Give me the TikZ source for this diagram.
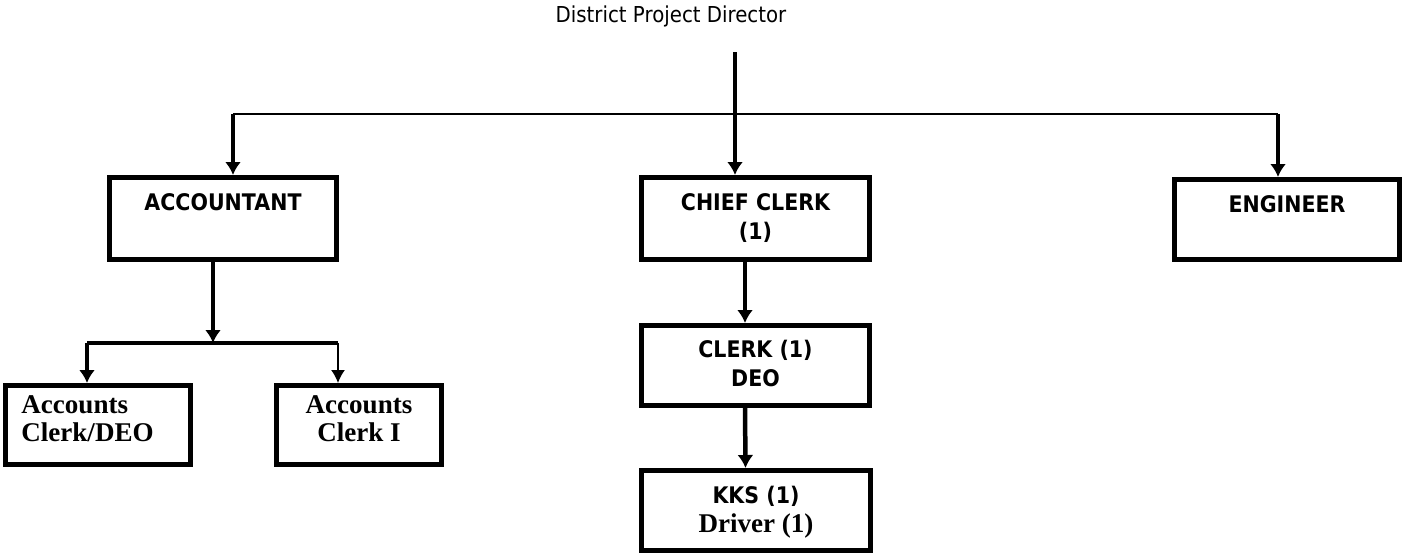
\documentclass[tikz,border=0pt]{standalone}
\usepackage{fontspec}
\setmainfont{Liberation Serif}
\newfontfamily\tahomaFont{DejaVu Sans}[FakeStretch=0.9]
\usetikzlibrary{arrows.meta, positioning}

\definecolor{lineBlack}{RGB}{0, 0, 0}
\definecolor{bgWhite}{RGB}{255, 255, 255}

\def\picW{1405}
\def\picH{555}

\tikzset{
    orgBox/.style={
        rectangle,
        draw=lineBlack,
        line width=0.1cm,
        fill=bgWhite,
        inner sep=0pt
    },
    boxText/.style={
        font=\tahomaFont\bfseries\fontsize{13}{16.5}\selectfont,
        text=lineBlack,
        align=center,
        inner sep=0pt
    },
    serifText/.style={
        font=\rmfamily\bfseries\fontsize{15.4}{16}\selectfont,
        text=lineBlack,
        inner sep=0pt
    },
    headText/.style={
        font=\tahomaFont\fontsize{12.5}{15}\selectfont,
        text=lineBlack,
        inner sep=0pt
    },
    feed/.style={
        draw=lineBlack,
        line width=0.09cm,
        -{Latex[length=0.26cm, width=0.32cm]}
    },
    thinFeed/.style={
        draw=lineBlack,
        line width=0.03cm,
        -{Latex[length=0.26cm, width=0.28cm]}
    },
    bus/.style={
        draw=lineBlack,
        line width=0.03cm
    }
}

\begin{document}
\begin{tikzpicture}[x=0.02cm, y=-0.02cm]
    \useasboundingbox (0,0) rectangle (\picW, \picH);

    \node[headText, anchor=base] (director) at (671,22) {District Project Director};

    % Top row
    \node[orgBox, minimum width=4.54cm, minimum height=1.64cm,
        label={[boxText, anchor=north, yshift=-0.36cm]north:ACCOUNTANT}] (accountant) at (223,218.5) {};
    \node[orgBox, minimum width=4.56cm, minimum height=1.64cm,
        label={[boxText, anchor=north, yshift=-0.36cm]north:{CHIEF CLERK\\(1)}}] (chief) at (755.5,218.5) {};
    \node[orgBox, minimum width=4.5cm, minimum height=1.6cm,
        label={[boxText, anchor=north, yshift=-0.36cm]north:ENGINEER}] (engineer) at (1287,219.5) {};

    % Chief clerk branch
    \node[orgBox, minimum width=4.56cm, minimum height=1.6cm,
        label={[boxText, anchor=north, yshift=-0.34cm]north:{CLERK (1)\\DEO}}] (clerk) at (755.5,365.5) {};
    \node[orgBox, minimum width=4.58cm, minimum height=1.6cm,
        label={[boxText, anchor=north, yshift=-0.36cm]north:{KKS (1)\\{\rmfamily\fontsize{15.4}{17}\selectfont Driver (1)}}}] (kks) at (756,510.5) {};

    % Accountant branch
    \node[orgBox, minimum width=3.7cm, minimum height=1.58cm,
        label={[serifText, align=left, anchor=north west, xshift=0.36cm, yshift=-0.24cm]north west:{Accounts\\Clerk/DEO}}] (accDeo) at (98,425) {};
    \node[orgBox, minimum width=3.3cm, minimum height=1.58cm,
        label={[serifText, align=center, anchor=north, yshift=-0.24cm]north:{Accounts\\Clerk I}}] (accOne) at (359,425) {};

    \coordinate (dirFoot) at (735,52);
    \coordinate (busL) at (233,114);
    \coordinate (busR) at (1278,114);
    \coordinate (accJoin) at (213,343);
    \coordinate (barL) at (87,343);
    \coordinate (barR) at (338,343);

    % Edges
    \draw[bus] (busL) -- (busR);
    \draw[feed] (dirFoot) -- (dirFoot |- chief.north);
    \draw[feed] (busL) -- (busL |- accountant.north);
    \draw[feed] (busR) -- (busR |- engineer.north);

    \draw[feed] ([xshift=-0.21cm]chief.south) -- ([xshift=-0.21cm]clerk.north);
    \draw[feed] ([xshift=-0.21cm]clerk.south) -- ([xshift=-0.21cm]kks.north);

    \draw[feed] (accountant.south -| accJoin) -- (accJoin);
    \draw[draw=lineBlack, line width=0.09cm] (barL) -- (barR);
    \draw[feed] (barL) -- (barL |- accDeo.north);
    \draw[thinFeed] (barR) -- (barR |- accOne.north);
\end{tikzpicture}
\end{document}
